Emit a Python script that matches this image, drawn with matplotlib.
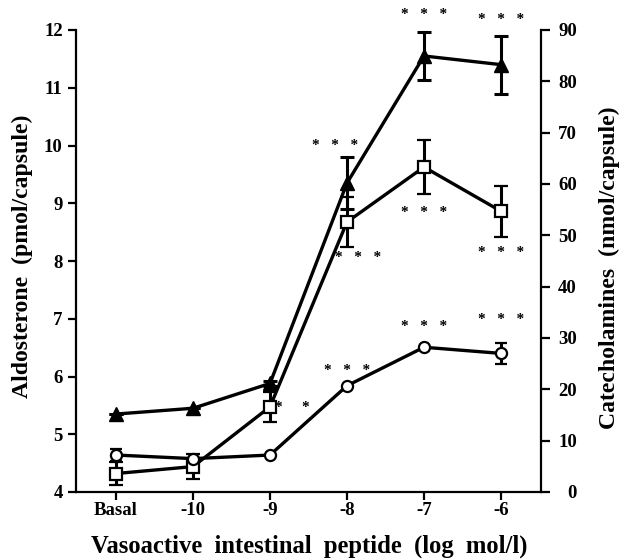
import matplotlib
matplotlib.use("Agg")
import matplotlib.pyplot as plt
import numpy as np

plt.rcParams['font.family'] = ['Liberation Serif', 'DejaVu Serif']
plt.rcParams['font.weight'] = 'bold'

categories = ["Basal", "-10", "-9", "-8", "-7", "-6"]

# Aldosterone (left axis, pmol/capsule) - filled triangles
aldo = [5.35, 5.45, 5.88, 9.35, 11.55, 11.40]
aldo_err = [0.0, 0.0, 0.05, 0.45, 0.42, 0.50]

# Catecholamines (right axis, nmol/capsule) - open squares and open circles
cat_sq = [3.6, 4.95, 16.6, 52.6, 63.3, 54.7]
cat_sq_err = [2.3, 2.4, 2.9, 4.9, 5.3, 5.0]
cat_ci = [7.2, 6.5, 7.2, 20.7, 28.2, 27.0]
cat_ci_err = [1.2, 0.0, 0.0, 0.0, 0.0, 2.1]

# significance marks: (x position, value, text)
sig_left = [(2.85, 10.0, "*   *   *"), (4.0, 12.26, "*   *   *"), (5.0, 12.19, "*   *   *")]
sig_right = [(3.15, 45.7, "*   *   *"), (4.0, 54.4, "*   *   *"), (5.0, 46.6, "*   *   *"),
             (3.0, 23.6, "*   *   *"), (4.0, 32.3, "*   *   *"), (5.0, 33.7, "*   *   *"),
             (2.29, 16.5, "*     *")]

x = np.arange(len(categories))

W, H = 622, 560
fig = plt.figure(figsize=(W / 100, H / 100), dpi=100)
L, R, B, T = 76, 541, 492, 30
ax = fig.add_axes([L / W, 1 - B / H, (R - L) / W, (B - T) / H])
ax2 = ax.twinx()

lw = 2.4
ax.errorbar(x, aldo, yerr=aldo_err, fmt='^-', color='black', mfc='black', mec='black',
            ms=10, lw=lw, capsize=4.7, elinewidth=2.2, capthick=2.2, zorder=4)
ax2.errorbar(x, cat_sq, yerr=cat_sq_err, fmt='s-', color='black', mfc='white', mec='black',
             mew=1.6, ms=8, lw=lw, capsize=4.7, elinewidth=2.2, capthick=2.2, zorder=4)
ax2.errorbar(x, cat_ci, yerr=cat_ci_err, fmt='o-', color='black', mfc='white', mec='black',
             mew=1.6, ms=8, lw=lw, capsize=4.2, elinewidth=2.2, capthick=2.2, zorder=4)

for xi, v, t in sig_left:
    ax.text(xi, v, t, ha='center', va='center', fontsize=11)
for xi, v, t in sig_right:
    ax2.text(xi, v, t, ha='center', va='center', fontsize=11)

ax.set_xlim(-0.52, 5.52)
ax.set_ylim(4, 12)
ax2.set_ylim(0, 90)
ax.set_xticks(x)
ax.set_xticklabels(categories)
ax.set_yticks(np.arange(4, 13, 1))
ax2.set_yticks(np.arange(0, 91, 10))

for a in (ax, ax2):
    a.spines['top'].set_visible(False)
    for s in a.spines.values():
        s.set_linewidth(1.6)
    a.tick_params(width=1.6, length=6, labelsize=13.5)
ax2.spines['left'].set_visible(False)
ax2.spines['bottom'].set_visible(False)
ax.spines['right'].set_visible(False)
ax.tick_params(axis='x', pad=1.5, length=6)
ax.tick_params(axis='y', pad=3.6, length=6)
ax2.tick_params(axis='y', pad=19.4, length=6.5)
for lab in ax2.get_yticklabels():
    lab.set_horizontalalignment('right')

t_x = fig.text(309 / W, 1 - 546 / H, "Vasoactive  intestinal  peptide  (log  mol/l)",
               ha='center', va='center', fontsize=17, fontweight='bold')
t_l = fig.text(22 / W, 1 - 256 / H, "Aldosterone  (pmol/capsule)", rotation=90,
               ha='center', va='center', fontsize=15, fontweight='bold')
t_r = fig.text(609 / W, 1 - 268 / H, "Catecholamines  (nmol/capsule)", rotation=90,
               ha='center', va='center', fontsize=15, fontweight='bold')

fig.canvas.draw()
rend = fig.canvas.get_renderer()
bx = t_x.get_window_extent(rend)
t_x.set_fontsize(t_x.get_fontsize() * 438 / bx.width)
br = t_r.get_window_extent(rend)
fs_y = t_r.get_fontsize() * 322 / br.height
t_r.set_fontsize(fs_y)
t_l.set_fontsize(fs_y)

fig.savefig("out.png", dpi=100)
